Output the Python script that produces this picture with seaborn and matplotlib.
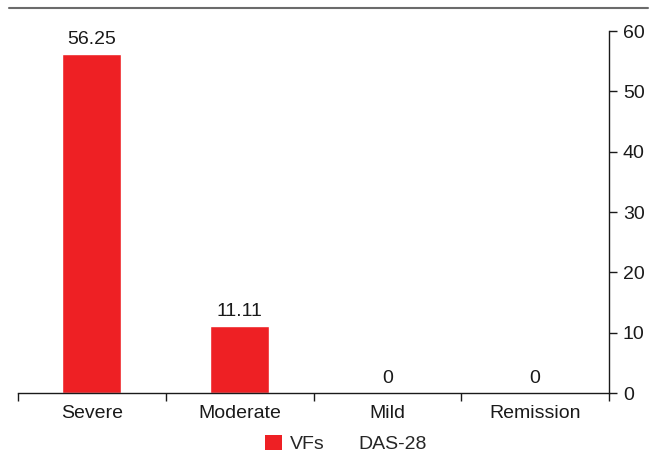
import matplotlib
matplotlib.use("Agg")
import matplotlib.pyplot as plt
from matplotlib.lines import Line2D
from matplotlib.patches import Patch
import seaborn as sns
import pandas as pd

categories = ["Severe", "Moderate", "Mild", "Remission"]
vf_values = [56.25, 11.11, 0, 0]
y_ticks = [0, 10, 20, 30, 40, 50, 60]
series_name = "VFs"
group_name = "DAS-28"

sns.set_style("white")
plt.rcParams["font.family"] = ["Liberation Sans", "DejaVu Sans"]

bar_red = "#EE2024"
ink = "#1a1a1a"
fs = 14
df = pd.DataFrame({"category": categories, "value": vf_values})

fig = plt.figure(figsize=(6.55, 4.55), dpi=100)
ax = fig.add_axes([18 / 655, 1 - 393 / 455, (609 - 18) / 655, (393 - 31) / 455])

sns.barplot(data=df, x="category", y="value", color=bar_red, width=0.4,
            saturation=1, ax=ax)

ax.set_xlim(-0.5, len(categories) - 0.5)
ax.set_ylim(0, 60)
ax.set_xlabel("")
ax.set_ylabel("")

# value labels above bars
ax.bar_label(ax.containers[0], labels=[f"{v:g}" for v in vf_values],
             padding=4, fontsize=fs, color=ink)

# y axis on the right
ax.yaxis.tick_right()
ax.set_yticks(y_ticks)
ax.tick_params(axis="y", right=True, left=False, direction="out", length=6,
               width=1, colors=ink, labelsize=fs, pad=4)
for side in ["left", "top"]:
    ax.spines[side].set_visible(False)
for side in ["right", "bottom"]:
    ax.spines[side].set_visible(True)
    ax.spines[side].set_color(ink)
    ax.spines[side].set_linewidth(1)

# category labels centered, tick marks at category boundaries
ax.set_xticks(range(len(categories)))
ax.set_xticklabels(categories)
ax.tick_params(axis="x", which="major", bottom=False, labelsize=fs,
               colors=ink, pad=5)
ax.set_xticks([i - 0.5 for i in range(len(categories) + 1)], minor=True)
ax.tick_params(axis="x", which="minor", bottom=True, direction="out",
               length=6, width=1, color=ink)

# legend below the axis
handles = [Patch(facecolor=bar_red, edgecolor="none", label=series_name),
           Patch(facecolor="none", edgecolor="none", label=group_name)]
fig.legend(handles=handles, loc="center", bbox_to_anchor=(346 / 655, 1 - 444 / 455),
           ncol=2, frameon=False, fontsize=fs, handlelength=0.85,
           handleheight=0.85, handletextpad=0.4, columnspacing=0.5)

# rule across the top of the figure
fig.add_artist(Line2D([9 / 655, 648 / 655], [1 - 8 / 455, 1 - 8 / 455],
                      color="#6b6b6b", lw=1.5))

fig.savefig("out.png", dpi=100)
